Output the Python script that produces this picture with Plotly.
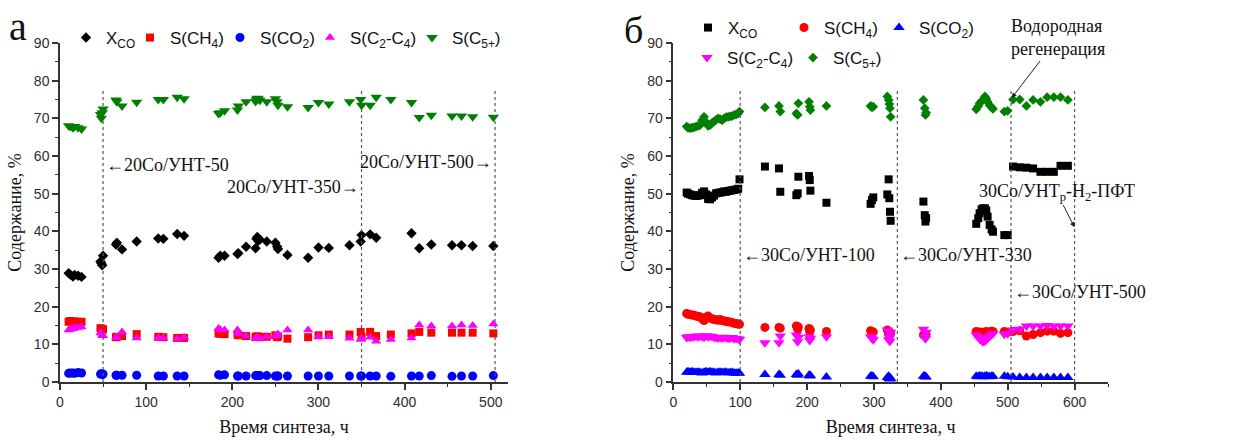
import plotly.graph_objects as go

# ---------------- Panel а (20Co/УНТ) ----------------
time_a = [10, 12, 15, 17, 21, 25, 47, 48, 49, 50, 65, 66, 72, 89, 114, 120, 136, 144,
          184, 186, 191, 206, 207, 216, 227, 228, 229, 230, 232, 240, 250, 252, 253, 264,
          288, 300, 312, 336, 349, 350, 360, 367, 384, 408, 417, 431, 455, 466, 479, 503]
xco_a = [28.9, 28.5, 28.0, 28.4, 28.2, 27.9, 32.0, 31.5, 31.0, 33.5, 36.5, 37.0, 35.2, 37.3, 38.1, 38.0, 39.3, 38.8,
         33.0, 33.5, 33.5, 34.0, 34.2, 35.9, 35.5, 38.0, 38.5, 37.5, 37.8, 37.3, 37.0, 36.0, 35.3, 33.7,
         33.0, 35.7, 35.6, 36.3, 37.3, 39.0, 39.2, 38.3, None, 39.5, 35.5, 36.5, 36.3, 36.3, 36.1, 36.1]
ch4_a = [16.0, 16.2, 16.0, 16.1, 15.9, 16.0, 14.3, 13.8, 14.0, 14.0, 11.9, 12.0, 12.2, 12.7, 12.0, 11.9, 11.7, 11.7,
         12.9, 12.8, 12.7, 12.6, 12.4, 12.2, 12.0, 12.0, 12.1, 12.0, 11.9, 12.0, 12.4, 11.9, 12.1, 11.5,
         11.9, 12.4, 12.6, 12.6, 13.3, 12.0, 13.3, 12.2, 12.6, 12.9, 13.3, 13.1, 13.1, 13.1, 13.1, 12.9]
co2_a = [2.3, 2.4, 2.4, 2.3, 2.5, 2.4, 2.1, 2.2, 2.0, 2.1, 1.8, 1.8, 1.8, 1.8, 1.6, 1.6, 1.6, 1.6,
         1.9, 1.8, 1.9, 1.6, 1.6, 1.6, 1.7, 1.7, 1.7, 1.7, 1.7, 1.7, 1.6, 1.6, 1.6, 1.6,
         1.6, 1.6, 1.6, 1.6, 1.6, 1.6, 1.6, 1.6, 1.5, 1.6, 1.6, 1.7, 1.5, 1.6, 1.6, 1.7]
c2c4_a = [13.8, 14.0, 14.2, 14.3, 14.5, 14.6, 13.0, 13.1, 12.5, 12.3, 11.9, 11.8, 13.3, 11.7, 11.7, 11.7, 11.5, 11.9,
          14.2, 13.9, 13.8, 13.8, 12.9, 12.2, 11.5, 11.8, 11.5, 11.6, 11.5, 12.0, 12.2, 12.5, 12.7, 13.8,
          13.8, 12.0, 12.0, 11.6, 11.3, 11.6, 11.9, 10.8, 11.3, 11.7, 15.1, 14.9, 14.9, 15.1, 15.0, 15.4]
c5_a = [68.0, 67.8, 67.5, 67.8, 67.5, 67.2, 71.0, 70.0, 71.5, 72.5, 74.9, 74.4, 73.3, 74.3, 75.0, 75.0, 75.6, 75.2,
        71.3, 71.5, 72.0, 72.2, 73.3, 74.4, 74.5, 75.0, 75.3, 75.2, 74.8, 74.4, 75.2, 74.4, 73.5, 73.1,
        72.9, 74.2, 73.8, 74.4, 75.0, 73.5, 73.5, 75.6, 75.0, 74.2, 70.2, 70.8, 70.6, 70.6, 70.4, 70.3]
bounds_a = [50, 350, 505]

# ---------------- Panel б (30Co/УНТ) ----------------
time_b = [20, 22, 25, 28, 31, 34, 37, 40, 43, 46, 49, 52, 55, 58, 61, 64, 67, 70, 73, 76, 79, 82, 85, 88, 91, 94, 97, 99,
          137, 158, 160, 184, 186, 187, 203, 204, 205, 229, 295, 297, 299, 320, 322, 323, 324, 325,
          374, 376, 377, 378, 453, 456, 458, 461, 463, 466, 468, 470, 473, 476, 478, 495, 500,
          508, 518, 528, 538, 549, 559, 569, 579, 590]
xco_b = [50.3, 50.0, 49.8, 49.6, 49.5, 49.4, 49.5, 49.6, 50.2, 50.6, 49.8, 48.6, 48.5, 49.0, 49.5, 50.1, 50.2, 50.3,
         50.4, 50.6, 50.5, 50.7, 50.8, 50.9, 51.0, 51.1, 51.3, 53.8,
         57.2, 56.7, 50.5, 49.6, 50.1, 54.5, 54.7, 53.6, 50.8, 47.6, 47.3, 48.3, 49.0, 49.8, 53.8, 48.8, 45.2, 42.8,
         47.9, 44.3, 42.6, 43.5, 42.0, 43.5, 44.8, 45.8, 46.1, 46.1, 45.5, 43.9, 41.7, 40.5, 39.9, 39.0, 39.0,
         57.2, 57.0, 56.9, 56.7, 55.8, 55.8, 55.8, 57.4, 57.4]
ch4_b = [18.2, 18.0, 17.9, 17.8, 17.7, 17.5, 17.4, 17.3, 16.8, 16.3, 17.2, 17.5, 17.0, 16.8, 16.6, 16.5, 16.4, 16.6,
         16.3, 16.2, 16.1, 16.0, 15.9, 15.8, 15.6, 15.5, 15.4, 15.3,
         14.5, 14.5, 14.3, 14.9, 14.0, 14.6, 14.2, 13.4, 13.8, 13.4, 13.6, 13.1, 13.3, 13.8, 12.7, 13.2, 12.5, 13.0,
         12.5, 12.8, 12.4, 12.6, 13.4, 13.0, 13.3, 12.8, 13.2, 12.9, 13.4, 13.0, 13.3, 13.5, 13.4, 13.4, 13.2,
         13.4, 13.6, 12.2, 12.6, 13.1, 13.5, 13.5, 12.9, 13.1]
co2_b = [2.6, 2.7, 2.6, 2.7, 2.6, 2.5, 2.6, 2.5, 2.4, 2.6, 2.7, 2.6, 2.7, 2.6, 2.5, 2.4, 2.6, 2.6,
         2.5, 2.5, 2.6, 2.4, 2.5, 2.5, 2.4, 2.3, 2.4, 2.3,
         2.0, 2.0, 1.8, 2.0, 1.8, 2.1, 1.8, 1.6, 1.7, 1.3, 1.5, 1.6, 1.4, 1.2, 1.5, 0.9, 0.8, 1.0,
         1.5, 1.6, 1.4, 1.3, 1.5, 1.4, 1.6, 1.5, 1.4, 1.5, 1.6, 1.5, 1.4, 1.5, 1.5, 1.5, 1.4,
         1.3, 1.2, 1.2, 1.2, 1.2, 1.2, 1.2, 1.2, 1.2]
c2c4_b = [11.8, 12.0, 11.9, 12.0, 12.1, 12.2, 12.0, 12.2, 12.1, 11.9, 12.3, 12.0, 12.2, 12.1, 11.9, 11.8, 11.7, 11.8,
          11.7, 11.9, 11.8, 11.6, 11.7, 11.8, 11.5, 11.6, 11.5, 11.3,
          10.4, 10.4, 12.2, 12.5, 10.7, 11.8, 12.0, 11.0, 11.6, 12.0, 12.0, 11.6, 11.2, 13.8, 11.2, 12.0, 10.8, 13.2,
          14.0, 12.0, 11.5, 13.2, 12.5, 12.0, 11.4, 11.0, 10.7, 10.9, 11.2, 11.6, 12.1, 12.6, 12.9, 12.7, 12.9,
          13.8, 14.0, 14.9, 14.9, 14.9, 15.0, 14.9, 14.9, 14.9]
c5_b = [67.8, 67.5, 67.4, 67.5, 67.6, 67.8, 68.0, 68.2, 69.5, 70.4, 69.0, 68.0, 68.2, 68.8, 69.2, 69.6, 70.0, 69.8,
        69.5, 70.0, 70.3, 70.4, 70.5, 70.6, 70.9, 71.0, 71.3, 71.8,
        72.9, 73.3, 71.8, 71.3, 70.9, 74.0, 74.4, 73.1, 72.2, 73.3, 73.3, 72.9, 73.1, 75.8, 74.9, 73.8, 72.7, 70.4,
        74.9, 72.7, 70.9, 71.5, 72.4, 73.2, 74.0, 74.6, 74.9, 75.8, 75.2, 74.4, 73.5, 72.9, 72.5, 71.8, 72.0,
        75.0, 75.0, 73.3, 74.9, 74.4, 75.6, 75.6, 75.6, 74.9]
bounds_b = [100, 335, 505, 600]

for arr in (xco_a, ch4_a, co2_a, c2c4_a, c5_a):
    assert len(arr) == len(time_a), len(arr)
for arr in (xco_b, ch4_b, co2_b, c2c4_b, c5_b):
    assert len(arr) == len(time_b), len(arr)

names = ["X<sub>CO</sub>", "S(CH<sub>4</sub>)", "S(CO<sub>2</sub>)", "S(C<sub>2</sub>-C<sub>4</sub>)", "S(C<sub>5+</sub>)"]
colors = ["#000000", "#ff0000", "#0000ff", "#ff00ff", "#008000"]

SANS = "Liberation Sans, Arial, sans-serif"
SERIF = "Liberation Serif, Times New Roman, serif"

fig = go.Figure()

# panel а traces
sym_a = ["diamond", "square", "circle", "triangle-up", "triangle-down"]
size_a = [8, 8, 9, 9, 10]
lw_a = [19, 45, 45, 57, 60]
for name, col, sym, sz, lw, ys in zip(names, colors, sym_a, size_a, lw_a,
                                      [xco_a, ch4_a, co2_a, c2c4_a, c5_a]):
    fig.add_trace(go.Scatter(x=time_a, y=ys, mode="markers", name=name,
                             marker=dict(symbol=sym, size=sz, color=col, line=dict(width=0)),
                             xaxis="x", yaxis="y", legend="legend", legendwidth=lw,
                             cliponaxis=False))

# panel б traces
sym_b = ["square", "circle", "triangle-up", "triangle-down", "diamond"]
size_b = [8, 9, 10, 10, 7.5]
lw_b = [51, 50, 60, 61, 60]
leg_b = ["legend2", "legend2", "legend2", "legend3", "legend3"]
for name, col, sym, sz, lw, lg, ys in zip(names, colors, sym_b, size_b, lw_b, leg_b,
                                          [xco_b, ch4_b, co2_b, c2c4_b, c5_b]):
    fig.add_trace(go.Scatter(x=time_b, y=ys, mode="markers", name=name,
                             marker=dict(symbol=sym, size=sz, color=col, line=dict(width=0)),
                             xaxis="x2", yaxis="y2", legend=lg, legendwidth=lw,
                             cliponaxis=False))

# dashed boundaries
shapes = []
for b in bounds_a:
    shapes.append(dict(type="line", xref="x", yref="y", x0=b, x1=b, y0=0, y1=78,
                       line=dict(color="#555555", width=1.2, dash="3px,3px")))
for b in bounds_b:
    shapes.append(dict(type="line", xref="x2", yref="y2", x0=b, x1=b, y0=0, y1=78,
                       line=dict(color="#555555", width=1.2, dash="3px,3px")))

afont = dict(family=SERIF, size=18, color="#111111")
annotations = [
    dict(text="а", x=18 / 1242, y=1 - 27 / 441, xref="paper", yref="paper", showarrow=False,
         xanchor="center", yanchor="middle", font=dict(family=SERIF, size=40, color="#111111")),
    dict(text="б", x=633 / 1242, y=1 - 30 / 441, xref="paper", yref="paper", showarrow=False,
         xanchor="center", yanchor="middle", font=dict(family=SERIF, size=38, color="#111111")),
    dict(text="←20Co/УНТ-50", x=bounds_a[0], y=57.6, xref="x", yref="y", xanchor="left", xshift=1,
         showarrow=False, font=afont),
    dict(text="20Co/УНТ-350→", x=bounds_a[1], y=51.8, xref="x", yref="y", xanchor="right", xshift=-1,
         showarrow=False, font=afont),
    dict(text="20Co/УНТ-500→", x=bounds_a[2], y=58.4, xref="x", yref="y", xanchor="right", xshift=-1,
         showarrow=False, font=afont),
    dict(text="←30Co/УНТ-100", x=bounds_b[0], y=33.7, xref="x2", yref="y2", xanchor="left", xshift=1,
         showarrow=False, font=afont),
    dict(text="←30Co/УНТ-330", x=bounds_b[1], y=33.7, xref="x2", yref="y2", xanchor="left", xshift=1,
         showarrow=False, font=afont),
    dict(text="←30Co/УНТ-500", x=bounds_b[2], y=23.9, xref="x2", yref="y2", xanchor="left", xshift=1,
         showarrow=False, font=afont),
    dict(text="30Co/УНТ<sub>р</sub>-Н<sub>2</sub>-ПФТ", x=bounds_b[3], y=41.1, xref="x2", yref="y2",
         showarrow=True, ax=-18, ay=-35, arrowhead=2, arrowsize=1, arrowwidth=1, arrowcolor="#222222",
         font=afont),
    dict(text="Водородная<br>регенерация", x=bounds_b[2] + 1, y=75.4, xref="x2", yref="y2",
         showarrow=True, ax=46, ay=-60, arrowhead=2, arrowsize=1, arrowwidth=1, arrowcolor="#222222",
         align="left", font=afont),
]

tickfont = dict(family=SANS, size=14, color="#2e2e2e")
titlefont = dict(family=SERIF, size=18, color="#111111")


def xax(domain, rng, anchor):
    return dict(domain=domain, range=rng, anchor=anchor, automargin=False,
                showline=True, linecolor="#333333", linewidth=1.5,
                ticks="outside", ticklen=6, tickwidth=1.5, tickcolor="#333333", dtick=100, tick0=0,
                minor=dict(ticks="outside", ticklen=3, dtick=50, tickcolor="#333333", tickwidth=1.2),
                showgrid=False, zeroline=False, tickfont=tickfont,
                title=dict(text="Время синтеза, ч", font=titlefont, standoff=12))


def yax(domain, anchor):
    return dict(domain=domain, range=[0, 90], anchor=anchor, automargin=False,
                showline=True, linecolor="#333333", linewidth=1.5,
                ticks="outside", ticklen=6, tickwidth=1.5, tickcolor="#333333", dtick=10, tick0=0,
                minor=dict(ticks="outside", ticklen=3, dtick=5, tickcolor="#333333", tickwidth=1.2),
                showgrid=False, zeroline=False, tickfont=tickfont,
                title=dict(text="Содержание, %", font=titlefont, standoff=8))


ydom = [(441 - 382) / 441, (441 - 43) / 441]
legfont = dict(family=SANS, size=17, color="#111111")
fig.update_layout(
    width=1242, height=441, margin=dict(l=0, r=0, t=0, b=0, autoexpand=False),
    paper_bgcolor="white", plot_bgcolor="white",
    xaxis=xax([60 / 1242, 508 / 1242], [0, 520], "y"),
    yaxis=yax(ydom, "x"),
    xaxis2=xax([673.3 / 1242, 1108 / 1242], [0, 650], "y2"),
    yaxis2=yax(ydom, "x2"),
    shapes=shapes, annotations=annotations,
    legend=dict(orientation="h", x=66 / 1242, y=1 - 38 / 441, xanchor="left", yanchor="middle",
                font=legfont, bgcolor="rgba(0,0,0,0)"),
    legend2=dict(orientation="h", x=688 / 1242, y=1 - 28 / 441, xanchor="left", yanchor="middle",
                 font=legfont, bgcolor="rgba(0,0,0,0)"),
    legend3=dict(orientation="h", x=687 / 1242, y=1 - 58 / 441, xanchor="left", yanchor="middle",
                 font=legfont, bgcolor="rgba(0,0,0,0)"),
)

fig.write_html("out.html")
